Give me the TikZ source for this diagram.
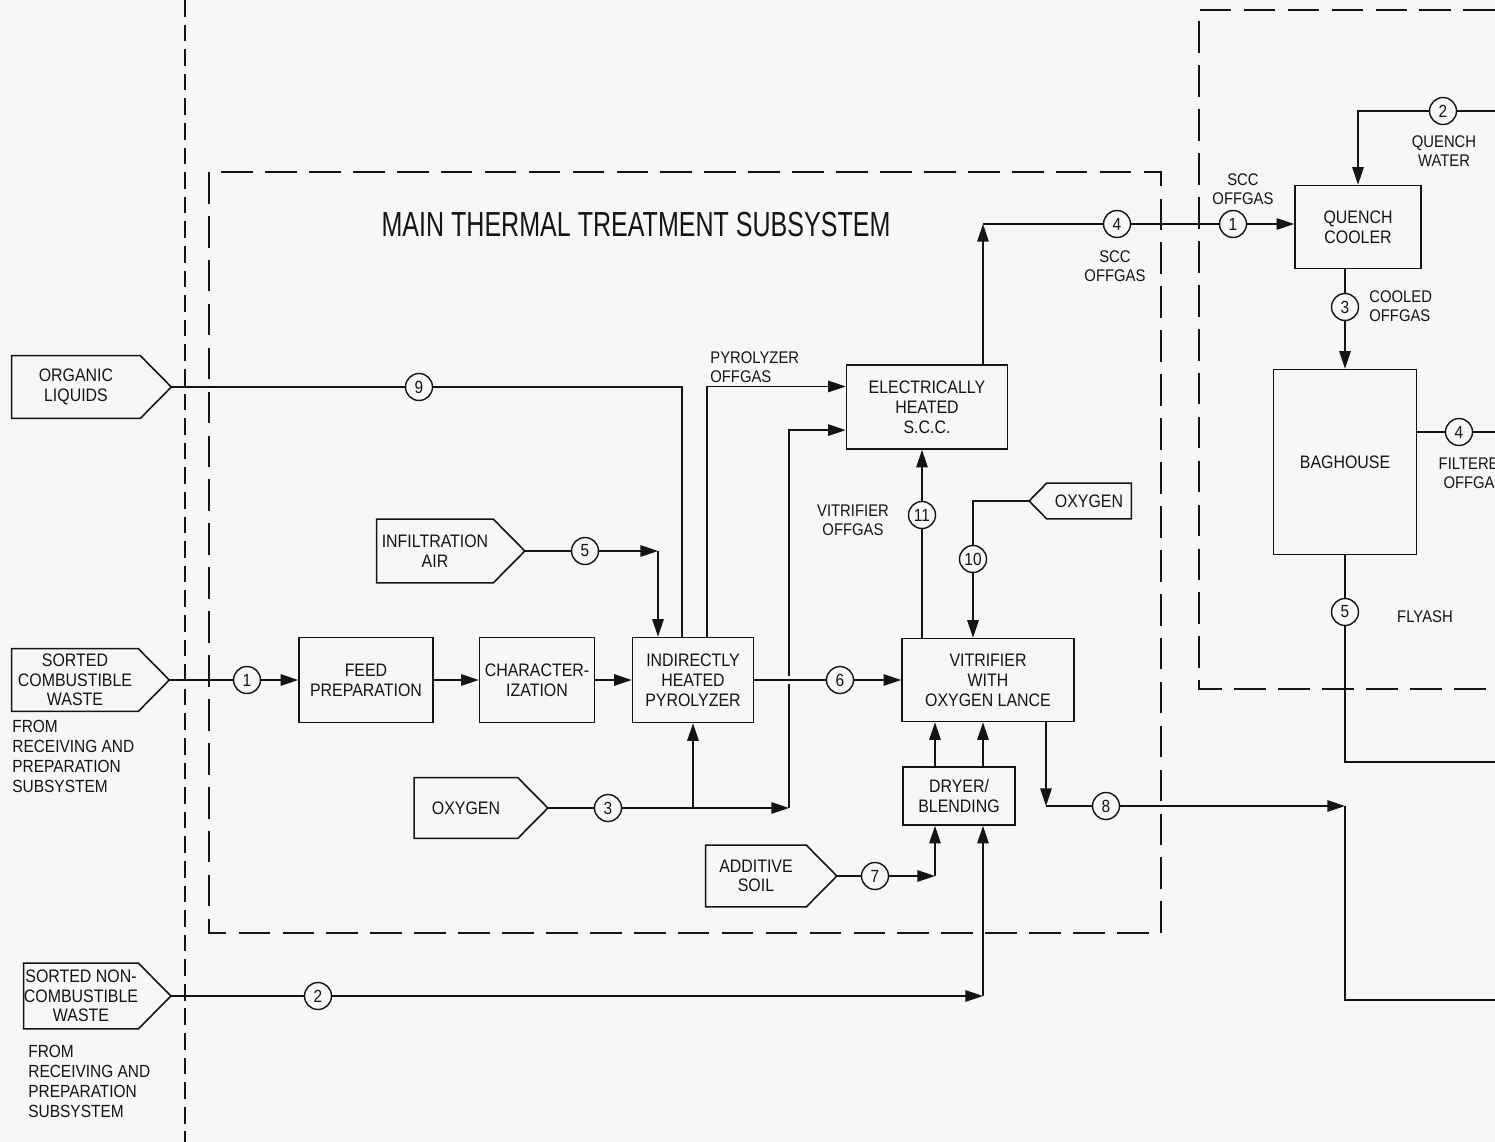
\documentclass[tikz,border=0pt]{standalone}
\usepackage{fontspec}
\setmainfont{Liberation Sans}[FakeStretch=0.88]
\newfontfamily\titlefont{Liberation Sans}[FakeStretch=0.72]
\usetikzlibrary{arrows.meta, positioning, calc}
\definecolor{paper}{RGB}{247, 247, 247}
\definecolor{ink}{RGB}{20, 20, 20}

% feed pentagon round a node: node name, pointer length
\newcommand{\feedshape}[2]{%
  \draw[line width=0.9pt, ink] (#1.north west) -- (#1.north east) -- ([xshift=#2]#1.east) -- (#1.south east) -- (#1.south west) -- cycle;
  \coordinate (#1tip) at ([xshift=#2]#1.east);}

\begin{document}
\begin{tikzpicture}[x=0.02cm, y=-0.02cm, ink,
    unit/.style={draw, line width=0.9pt, align=center, inner sep=2pt, font=\fontsize{10.3}{11.4}\selectfont},
    src/.style={align=center, inner sep=0pt, minimum height=1.24cm, font=\fontsize{10.3}{11.2}\selectfont},
    strm/.style={draw, circle, line width=0.8pt, minimum size=0.54cm, inner sep=0pt, font=\fontsize{10}{11}\selectfont},
    lbl/.style={align=center, inner sep=0pt, font=\fontsize{9.6}{11}\selectfont},
    flow/.style={line width=0.85pt},
    arr/.style={line width=0.85pt, -{Triangle[length=10pt, width=6.5pt]}},
    bound/.style={line width=0.9pt, dash pattern=on 18pt off 7pt}]
    \fill[paper] (0,0) rectangle (1495,1142);
    \useasboundingbox (0,0) rectangle (1495,1142);
    \clip (0,0) rectangle (1495,1142);

    % Subsystem boundaries
    \draw[line width=0.9pt, dash pattern=on 9.5pt off 4.5pt] (185,0) -- (185,1142);
    \draw[bound] (209,172) rectangle (1161,933);
    \draw[bound] (1495,10) -- (1199,10) -- (1199,689) -- (1495,689);
    \node[font=\titlefont\fontsize{19.8}{22}\selectfont] (title) at (636,225) {MAIN THERMAL TREATMENT SUBSYSTEM};

    % Feeds
    \node[src, minimum width=2.56cm] (org) at (76,387) {ORGANIC\\LIQUIDS};
    \feedshape{org}{0.62cm}
    \node[src, minimum width=2.52cm] (comb) at (75,680) {SORTED\\COMBUSTIBLE\\WASTE};
    \feedshape{comb}{0.62cm}
    \node[src, minimum width=2.28cm, minimum height=1.3cm] (nc) at (81,996) {SORTED NON-\\COMBUSTIBLE\\WASTE};
    \feedshape{nc}{0.65cm}
    \node[src, minimum width=2.32cm, minimum height=1.26cm] (air) at (435,551) {INFILTRATION\\AIR};
    \feedshape{air}{0.63cm}
    \node[src, minimum width=2.06cm, minimum height=1.2cm] (oxy) at (466,808) {OXYGEN};
    \feedshape{oxy}{0.6cm}
    \node[src, minimum width=2.0cm, minimum height=1.22cm] (add) at (756,876) {ADDITIVE\\SOIL};
    \feedshape{add}{0.61cm}
    \node[src, minimum width=1.68cm, minimum height=0.7cm] (oxr) at (1089,501) {OXYGEN};
    \draw[line width=0.9pt] (oxr.north east) -- (oxr.north west) -- ([xshift=-0.35cm]oxr.west) -- (oxr.south west) -- (oxr.south east) -- cycle;
    \coordinate (oxrtip) at ([xshift=-0.35cm]oxr.west);

    \node[lbl, anchor=north west, align=left, font=\fontsize{10}{11.4}\selectfont] (from1) at (12,720) {FROM\\RECEIVING AND\\PREPARATION\\SUBSYSTEM};
    \node[lbl, anchor=north west, align=left, font=\fontsize{10}{11.4}\selectfont] (from2) at (28,1045) {FROM\\RECEIVING AND\\PREPARATION\\SUBSYSTEM};

    % Process units
    \node[unit, minimum width=2.68cm, minimum height=1.7cm] (feed) at (366,680) {FEED\\PREPARATION};
    \node[unit, minimum width=2.3cm, minimum height=1.7cm] (charac) at (537,680) {CHARACTER-\\IZATION};
    \node[unit, minimum width=2.42cm, minimum height=1.7cm] (pyro) at (693,680) {INDIRECTLY\\HEATED\\PYROLYZER};
    \node[unit, minimum width=3.22cm, minimum height=1.68cm] (scc) at (927,407) {ELECTRICALLY\\HEATED\\S.C.C.};
    \node[unit, minimum width=3.44cm, minimum height=1.66cm] (vitr) at (988,680) {VITRIFIER\\WITH\\OXYGEN LANCE};
    \node[unit, minimum width=2.24cm, minimum height=1.16cm] (dryer) at (959,796) {DRYER/\\BLENDING};
    \node[unit, minimum width=2.52cm, minimum height=1.66cm] (quench) at (1358,227) {QUENCH\\COOLER};
    \node[unit, minimum width=2.86cm, minimum height=3.7cm] (bag) at (1345,462) {BAGHOUSE};

    % Stream numbers
    \node[strm] (s9) at (419,387) {9};
    \node[strm] (s1) at (247,680) {1};
    \node[strm] (s5) at (585,551) {5};
    \node[strm] (s3) at (608,808) {3};
    \node[strm] (s6) at (840,680) {6};
    \node[strm] (s7) at (875,876) {7};
    \node[strm] (s11) at (922,515) {11};
    \node[strm] (s10) at (973,559) {10};
    \node[strm] (s4) at (1117,224) {4};
    \node[strm] (s8) at (1106,806) {8};
    \node[strm] (s2) at (318,996) {2};
    \node[strm] (q1) at (1233,224) {1};
    \node[strm] (q2) at (1443,111) {2};
    \node[strm] (q3) at (1345,307) {3};
    \node[strm] (q4) at (1459,432) {4};
    \node[strm] (q5) at (1345,612) {5};

    % Stream labels
    \node[lbl, anchor=west, align=left] (lpyro) at (710,367) {PYROLYZER\\OFFGAS};
    \node[lbl] (lvitr) at (853,520) {VITRIFIER\\OFFGAS};
    \node[lbl] (lscc) at (1115,266) {SCC\\OFFGAS};
    \node[lbl] (lscc2) at (1243,189) {SCC\\OFFGAS};
    \node[lbl] (lqw) at (1444,151) {QUENCH\\WATER};
    \node[lbl, anchor=west, align=left] (lcool) at (1369,306) {COOLED\\OFFGAS};
    \node[lbl] (lfilt) at (1474,473) {FILTERED\\OFFGAS};
    \node[lbl] (lash) at (1425,617) {FLYASH};

    % Ports and bends
    \coordinate (pyin9) at ([xshift=-0.22cm]pyro.north);
    \coordinate (pyout) at ([xshift=0.28cm]pyro.north);
    \coordinate (pyin5) at ([xshift=-0.7cm]pyro.north);
    \coordinate (sccin1) at ($(scc.north west)!0.26!(scc.south west)$);
    \coordinate (sccin2) at ($(scc.north west)!0.77!(scc.south west)$);
    \coordinate (airbend) at (s5 -| pyin5);
    \coordinate (oxbend) at (789,808);
    \coordinate (sccbend) at (983,224);
    \coordinate (vbend) at (1046,806);
    \coordinate (slagbend) at (1345,806);
    \coordinate (slagdown) at (1345,1000);
    \coordinate (slagout) at (1495,1000);
    \coordinate (dx1) at (935,796);
    \coordinate (dx2) at (983,796);
    \coordinate (qwin) at (1495,111);
    \coordinate (filtout) at (1495,432);
    \coordinate (ashbend) at (1345,762);
    \coordinate (ashout) at (1495,762);

    % Pyrolyzer feeds
    \draw[flow] (orgtip) -- (s9) -| (pyin9);
    \draw[flow] (combtip) -- (s1);
    \draw[arr] (s1) -- (feed);
    \draw[arr] (feed) -- (charac);
    \draw[arr] (charac) -- (pyro);
    \draw[flow] (airtip) -- (s5);
    \draw[arr] (s5) -- (airbend);
    \draw[arr] (airbend) -- (pyin5);
    \draw[flow] (oxytip) -- (s3);
    \draw[arr] (s3) -- (oxbend);
    \draw[arr] (s3 -| pyro.south) -- (pyro.south);

    % Offgas to S.C.C.
    \draw[arr] (pyout) |- (sccin1);
    \draw[arr] (oxbend) |- (sccin2);
    \draw[flow] (s11 |- vitr.north) -- (s11);
    \draw[arr] (s11) -- (s11 |- scc.south);
    \draw[arr] (sccbend |- scc.north) -- (sccbend);
    \draw[flow] (sccbend) -- (s4);
    \draw[flow] (s4) -- (q1);
    \draw[arr] (q1) -- (q1 -| quench.west);

    % Vitrifier
    \draw[flow, preaction={draw=paper, line width=5pt, shorten <=6pt, shorten >=8pt}] (pyro) -- (s6);
    \draw[arr] (s6) -- (vitr);
    \draw[flow] (oxrtip) -| (s10);
    \draw[arr] (s10) -- (s10 |- vitr.north);
    \draw[arr] (dx1 |- dryer.north) -- (dx1 |- vitr.south);
    \draw[arr] (dx2 |- dryer.north) -- (dx2 |- vitr.south);
    \draw[flow] (addtip) -- (s7);
    \draw[arr] (s7) -- (s7 -| dx1);
    \draw[arr] (s7 -| dx1) -- (dx1 |- dryer.south);
    \draw[flow] (nctip) -- (s2);
    \draw[arr] (s2) -- (s2 -| dx2);
    \draw[arr] (s2 -| dx2) -- (dx2 |- dryer.south);
    \draw[arr] (vbend |- vitr.south) -- (vbend);
    \draw[flow] (vbend) -- (s8);
    \draw[arr] (s8) -- (slagbend);
    \draw[flow] (slagbend) -- (slagdown) -- (slagout);

    % Offgas treatment
    \draw[flow] (qwin) -- (q2);
    \draw[arr] (q2) -| (quench.north);
    \draw[flow] (q3 |- quench.south) -- (q3);
    \draw[arr] (q3) -- (q3 |- bag.north);
    \draw[flow] (bag.east |- q4) -- (q4) -- (filtout);
    \draw[flow] (bag.south) -- (q5) -- (ashbend) -- (ashout);
\end{tikzpicture}
\end{document}
